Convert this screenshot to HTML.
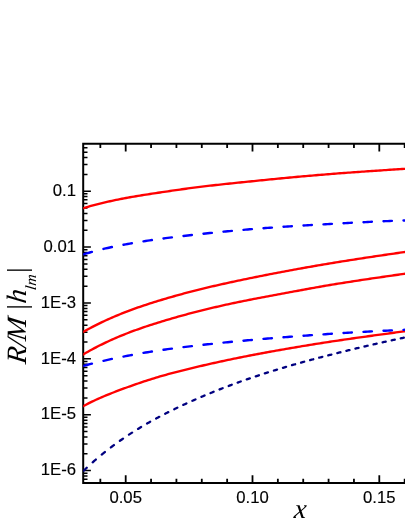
<!DOCTYPE html>
<html><head><meta charset="utf-8"><style>
html,body{margin:0;padding:0;background:#fff;}
body{width:405px;height:525px;overflow:hidden;font-family:"Liberation Sans",sans-serif;}
svg{display:block;will-change:transform;}
.tl{font-family:"Liberation Sans",sans-serif;}
.ti{font-family:"Liberation Serif",serif;font-style:italic;}
</style></head><body>
<svg width="405" height="525" viewBox="0 0 405 525">
<rect width="405" height="525" fill="#fff"/>
<path d="M83.2,142.7 V484.0 M82.2,143.7 H405 M82.2,483.0 H405" stroke="#000" stroke-width="2" fill="none"/>
<path d="M100.34,143.7 v4.3 M100.34,483.0 v-4.3 M125.70,143.7 v7.7 M125.70,483.0 v-7.7 M151.06,143.7 v4.3 M151.06,483.0 v-4.3 M176.42,143.7 v4.3 M176.42,483.0 v-4.3 M201.78,143.7 v4.3 M201.78,483.0 v-4.3 M227.14,143.7 v4.3 M227.14,483.0 v-4.3 M252.50,143.7 v7.7 M252.50,483.0 v-7.7 M277.86,143.7 v4.3 M277.86,483.0 v-4.3 M303.22,143.7 v4.3 M303.22,483.0 v-4.3 M328.58,143.7 v4.3 M328.58,483.0 v-4.3 M353.94,143.7 v4.3 M353.94,483.0 v-4.3 M379.30,143.7 v7.7 M379.30,483.0 v-7.7 M404.66,143.7 v4.3 M404.66,483.0 v-4.3" stroke="#000" stroke-width="1.8" fill="none"/>
<path d="M83.2,479.26 h4.3 M83.2,476.02 h4.3 M83.2,473.16 h4.3 M83.2,470.60 h7.7 M83.2,453.78 h4.3 M83.2,443.94 h4.3 M83.2,436.96 h4.3 M83.2,431.54 h4.3 M83.2,427.12 h4.3 M83.2,423.38 h4.3 M83.2,420.14 h4.3 M83.2,417.28 h4.3 M83.2,414.72 h7.7 M83.2,397.90 h4.3 M83.2,388.06 h4.3 M83.2,381.08 h4.3 M83.2,375.66 h4.3 M83.2,371.24 h4.3 M83.2,367.50 h4.3 M83.2,364.26 h4.3 M83.2,361.40 h4.3 M83.2,358.84 h7.7 M83.2,342.02 h4.3 M83.2,332.18 h4.3 M83.2,325.20 h4.3 M83.2,319.78 h4.3 M83.2,315.36 h4.3 M83.2,311.62 h4.3 M83.2,308.38 h4.3 M83.2,305.52 h4.3 M83.2,302.96 h7.7 M83.2,286.14 h4.3 M83.2,276.30 h4.3 M83.2,269.32 h4.3 M83.2,263.90 h4.3 M83.2,259.48 h4.3 M83.2,255.74 h4.3 M83.2,252.50 h4.3 M83.2,249.64 h4.3 M83.2,247.08 h7.7 M83.2,230.26 h4.3 M83.2,220.42 h4.3 M83.2,213.44 h4.3 M83.2,208.02 h4.3 M83.2,203.60 h4.3 M83.2,199.86 h4.3 M83.2,196.62 h4.3 M83.2,193.76 h4.3 M83.2,191.20 h7.7 M83.2,174.38 h4.3 M83.2,164.54 h4.3 M83.2,157.56 h4.3 M83.2,152.14 h4.3 M83.2,147.72 h4.3" stroke="#000" stroke-width="1.5" fill="none"/>
<clipPath id="cp"><rect x="83.2" y="143.7" width="330" height="339.3"/></clipPath>
<g clip-path="url(#cp)"><path d="M82,208.61 L84,208.00 L86,207.39 L88,206.80 L90,206.23 L92,205.67 L94,205.13 L96,204.60 L98,204.08 L100,203.57 L102,203.08 L104,202.60 L106,202.13 L108,201.67 L110,201.23 L112,200.79 L114,200.36 L116,199.95 L118,199.54 L120,199.14 L122,198.76 L124,198.37 L126,198.00 L128,197.64 L130,197.28 L132,196.93 L134,196.58 L136,196.24 L138,195.91 L140,195.58 L142,195.26 L144,194.94 L146,194.62 L148,194.31 L150,194.00 L152,193.69 L154,193.39 L156,193.09 L158,192.78 L160,192.49 L162,192.19 L164,191.89 L166,191.59 L168,191.30 L170,191.00 L172,190.71 L174,190.42 L176,190.13 L178,189.85 L180,189.56 L182,189.28 L184,189.00 L186,188.73 L188,188.46 L190,188.19 L192,187.92 L194,187.66 L196,187.40 L198,187.15 L200,186.89 L202,186.65 L204,186.41 L206,186.17 L208,185.93 L210,185.70 L212,185.47 L214,185.25 L216,185.03 L218,184.81 L220,184.59 L222,184.37 L224,184.16 L226,183.95 L228,183.74 L230,183.53 L232,183.32 L234,183.11 L236,182.91 L238,182.70 L240,182.49 L242,182.29 L244,182.08 L246,181.88 L248,181.67 L250,181.47 L252,181.26 L254,181.06 L256,180.85 L258,180.65 L260,180.45 L262,180.25 L264,180.05 L266,179.84 L268,179.65 L270,179.45 L272,179.25 L274,179.05 L276,178.86 L278,178.66 L280,178.47 L282,178.27 L284,178.08 L286,177.89 L288,177.71 L290,177.52 L292,177.33 L294,177.15 L296,176.97 L298,176.78 L300,176.60 L302,176.42 L304,176.25 L306,176.07 L308,175.90 L310,175.72 L312,175.55 L314,175.38 L316,175.21 L318,175.04 L320,174.88 L322,174.71 L324,174.55 L326,174.39 L328,174.23 L330,174.07 L332,173.91 L334,173.76 L336,173.60 L338,173.45 L340,173.29 L342,173.14 L344,172.99 L346,172.84 L348,172.70 L350,172.55 L352,172.40 L354,172.26 L356,172.12 L358,171.97 L360,171.83 L362,171.69 L364,171.55 L366,171.41 L368,171.27 L370,171.14 L372,171.00 L374,170.86 L376,170.73 L378,170.59 L380,170.46 L382,170.32 L384,170.19 L386,170.06 L388,169.92 L390,169.79 L392,169.66 L394,169.53 L396,169.40 L398,169.27 L400,169.14 L402,169.01 L404,168.88 L406,168.75 L408,168.62" fill="none" stroke="#ff0000" stroke-width="2.35" stroke-linecap="round" stroke-linejoin="round"/>
<path d="M82,332.58 L84,331.46 L86,330.36 L88,329.28 L90,328.21 L92,327.16 L94,326.13 L96,325.12 L98,324.12 L100,323.14 L102,322.18 L104,321.23 L106,320.30 L108,319.39 L110,318.49 L112,317.61 L114,316.75 L116,315.90 L118,315.06 L120,314.24 L122,313.43 L124,312.64 L126,311.87 L128,311.10 L130,310.35 L132,309.61 L134,308.89 L136,308.17 L138,307.47 L140,306.78 L142,306.10 L144,305.42 L146,304.76 L148,304.11 L150,303.46 L152,302.83 L154,302.20 L156,301.58 L158,300.96 L160,300.35 L162,299.75 L164,299.15 L166,298.56 L168,297.97 L170,297.39 L172,296.82 L174,296.25 L176,295.69 L178,295.13 L180,294.58 L182,294.03 L184,293.49 L186,292.95 L188,292.42 L190,291.90 L192,291.38 L194,290.87 L196,290.36 L198,289.85 L200,289.35 L202,288.86 L204,288.37 L206,287.89 L208,287.41 L210,286.94 L212,286.47 L214,286.00 L216,285.54 L218,285.08 L220,284.63 L222,284.18 L224,283.73 L226,283.29 L228,282.85 L230,282.42 L232,281.99 L234,281.56 L236,281.13 L238,280.70 L240,280.28 L242,279.86 L244,279.45 L246,279.03 L248,278.62 L250,278.21 L252,277.80 L254,277.39 L256,276.99 L258,276.59 L260,276.19 L262,275.79 L264,275.40 L266,275.00 L268,274.61 L270,274.22 L272,273.83 L274,273.45 L276,273.07 L278,272.68 L280,272.30 L282,271.92 L284,271.55 L286,271.17 L288,270.80 L290,270.43 L292,270.06 L294,269.69 L296,269.33 L298,268.96 L300,268.60 L302,268.24 L304,267.88 L306,267.53 L308,267.17 L310,266.82 L312,266.47 L314,266.12 L316,265.78 L318,265.43 L320,265.09 L322,264.75 L324,264.41 L326,264.07 L328,263.74 L330,263.41 L332,263.08 L334,262.75 L336,262.42 L338,262.10 L340,261.77 L342,261.45 L344,261.13 L346,260.81 L348,260.50 L350,260.18 L352,259.87 L354,259.55 L356,259.24 L358,258.93 L360,258.63 L362,258.32 L364,258.01 L366,257.71 L368,257.41 L370,257.11 L372,256.80 L374,256.51 L376,256.21 L378,255.91 L380,255.61 L382,255.32 L384,255.02 L386,254.73 L388,254.44 L390,254.15 L392,253.85 L394,253.56 L396,253.28 L398,252.99 L400,252.70 L402,252.41 L404,252.12 L406,251.84 L408,251.55" fill="none" stroke="#ff0000" stroke-width="2.35" stroke-linecap="round" stroke-linejoin="round"/>
<path d="M82,355.10 L84,353.94 L86,352.79 L88,351.67 L90,350.56 L92,349.47 L94,348.41 L96,347.36 L98,346.33 L100,345.32 L102,344.33 L104,343.36 L106,342.40 L108,341.46 L110,340.54 L112,339.64 L114,338.75 L116,337.88 L118,337.03 L120,336.19 L122,335.36 L124,334.55 L126,333.76 L128,332.98 L130,332.21 L132,331.46 L134,330.72 L136,329.99 L138,329.27 L140,328.57 L142,327.87 L144,327.19 L146,326.51 L148,325.85 L150,325.19 L152,324.54 L154,323.90 L156,323.27 L158,322.64 L160,322.02 L162,321.41 L164,320.81 L166,320.20 L168,319.61 L170,319.02 L172,318.44 L174,317.86 L176,317.29 L178,316.73 L180,316.17 L182,315.61 L184,315.06 L186,314.52 L188,313.98 L190,313.45 L192,312.92 L194,312.40 L196,311.88 L198,311.37 L200,310.87 L202,310.36 L204,309.87 L206,309.38 L208,308.89 L210,308.41 L212,307.93 L214,307.46 L216,306.99 L218,306.53 L220,306.07 L222,305.62 L224,305.17 L226,304.72 L228,304.28 L230,303.85 L232,303.42 L234,302.99 L236,302.57 L238,302.16 L240,301.74 L242,301.34 L244,300.93 L246,300.53 L248,300.14 L250,299.74 L252,299.35 L254,298.97 L256,298.58 L258,298.20 L260,297.82 L262,297.44 L264,297.07 L266,296.69 L268,296.32 L270,295.94 L272,295.57 L274,295.20 L276,294.83 L278,294.46 L280,294.08 L282,293.71 L284,293.34 L286,292.96 L288,292.59 L290,292.21 L292,291.84 L294,291.46 L296,291.09 L298,290.72 L300,290.35 L302,289.98 L304,289.61 L306,289.24 L308,288.87 L310,288.51 L312,288.15 L314,287.79 L316,287.43 L318,287.08 L320,286.73 L322,286.38 L324,286.03 L326,285.69 L328,285.35 L330,285.02 L332,284.68 L334,284.35 L336,284.02 L338,283.70 L340,283.37 L342,283.05 L344,282.73 L346,282.41 L348,282.10 L350,281.79 L352,281.48 L354,281.17 L356,280.86 L358,280.55 L360,280.25 L362,279.95 L364,279.65 L366,279.35 L368,279.05 L370,278.76 L372,278.46 L374,278.17 L376,277.88 L378,277.58 L380,277.29 L382,277.00 L384,276.72 L386,276.43 L388,276.14 L390,275.86 L392,275.57 L394,275.28 L396,275.00 L398,274.72 L400,274.43 L402,274.15 L404,273.86 L406,273.58 L408,273.30" fill="none" stroke="#ff0000" stroke-width="2.35" stroke-linecap="round" stroke-linejoin="round"/>
<path d="M82,406.83 L84,405.74 L86,404.69 L88,403.66 L90,402.65 L92,401.68 L94,400.72 L96,399.79 L98,398.88 L100,397.99 L102,397.12 L104,396.27 L106,395.43 L108,394.61 L110,393.81 L112,393.01 L114,392.23 L116,391.46 L118,390.70 L120,389.94 L122,389.20 L124,388.46 L126,387.73 L128,387.00 L130,386.28 L132,385.57 L134,384.87 L136,384.17 L138,383.49 L140,382.81 L142,382.14 L144,381.47 L146,380.82 L148,380.17 L150,379.54 L152,378.91 L154,378.29 L156,377.68 L158,377.08 L160,376.49 L162,375.90 L164,375.33 L166,374.77 L168,374.21 L170,373.66 L172,373.12 L174,372.59 L176,372.07 L178,371.55 L180,371.03 L182,370.53 L184,370.03 L186,369.53 L188,369.04 L190,368.56 L192,368.08 L194,367.60 L196,367.13 L198,366.66 L200,366.19 L202,365.73 L204,365.27 L206,364.81 L208,364.36 L210,363.91 L212,363.46 L214,363.01 L216,362.57 L218,362.13 L220,361.69 L222,361.25 L224,360.82 L226,360.40 L228,359.97 L230,359.55 L232,359.13 L234,358.72 L236,358.30 L238,357.90 L240,357.49 L242,357.09 L244,356.69 L246,356.30 L248,355.91 L250,355.52 L252,355.13 L254,354.75 L256,354.37 L258,353.99 L260,353.62 L262,353.24 L264,352.87 L266,352.51 L268,352.14 L270,351.78 L272,351.42 L274,351.06 L276,350.70 L278,350.34 L280,349.99 L282,349.64 L284,349.29 L286,348.94 L288,348.59 L290,348.24 L292,347.90 L294,347.56 L296,347.22 L298,346.88 L300,346.54 L302,346.21 L304,345.88 L306,345.55 L308,345.22 L310,344.89 L312,344.57 L314,344.24 L316,343.92 L318,343.61 L320,343.29 L322,342.98 L324,342.67 L326,342.36 L328,342.05 L330,341.75 L332,341.45 L334,341.15 L336,340.85 L338,340.55 L340,340.26 L342,339.97 L344,339.68 L346,339.39 L348,339.10 L350,338.81 L352,338.53 L354,338.24 L356,337.96 L358,337.68 L360,337.40 L362,337.12 L364,336.84 L366,336.56 L368,336.28 L370,336.01 L372,335.73 L374,335.45 L376,335.18 L378,334.91 L380,334.63 L382,334.36 L384,334.08 L386,333.81 L388,333.54 L390,333.26 L392,332.99 L394,332.72 L396,332.44 L398,332.17 L400,331.90 L402,331.62 L404,331.35 L406,331.07 L408,330.79" fill="none" stroke="#ff0000" stroke-width="2.35" stroke-linecap="round" stroke-linejoin="round"/>
<path d="M83.50,254.37 L85.60,253.72 L87.70,253.09 L89.80,252.48 L91.90,251.88 M103.50,248.92 L105.60,248.43 L107.70,247.96 L109.80,247.49 L111.90,247.04 M123.50,244.74 L125.60,244.35 L127.70,243.97 L129.80,243.59 L131.90,243.23 M143.50,241.32 L145.60,241.00 L147.70,240.68 L149.80,240.37 L151.90,240.06 M163.50,238.44 L165.60,238.16 L167.70,237.89 L169.80,237.62 L171.90,237.35 M183.50,235.94 L185.60,235.69 L187.70,235.45 L189.80,235.21 L191.90,234.97 M203.50,233.70 L205.60,233.48 L207.70,233.26 L209.80,233.04 L211.90,232.83 M223.50,231.68 L225.60,231.48 L227.70,231.28 L229.80,231.08 L231.90,230.89 M243.50,229.85 L245.60,229.67 L247.70,229.49 L249.80,229.31 L251.90,229.14 M263.50,228.21 L265.60,228.05 L267.70,227.89 L269.80,227.74 L271.90,227.58 M283.50,226.77 L285.60,226.63 L287.70,226.50 L289.80,226.36 L291.90,226.23 M303.50,225.52 L305.60,225.39 L307.70,225.27 L309.80,225.14 L311.90,225.02 M323.50,224.36 L325.60,224.24 L327.70,224.12 L329.80,224.00 L331.90,223.88 M343.50,223.24 L345.60,223.12 L347.70,223.01 L349.80,222.90 L351.90,222.79 M363.50,222.19 L365.60,222.09 L367.70,221.98 L369.80,221.88 L371.90,221.78 M383.50,221.26 L385.60,221.17 L387.70,221.08 L389.80,220.99 L391.90,220.91 M403.50,220.48 L405.60,220.41 L407.70,220.34 L409.80,220.27 L411.90,220.21" fill="none" stroke="#0000ff" stroke-width="2.4" stroke-linecap="round" stroke-linejoin="round"/>
<path d="M83.50,365.87 L85.60,365.29 L87.70,364.72 L89.80,364.16 L91.90,363.62 M103.50,360.80 L105.60,360.32 L107.70,359.86 L109.80,359.40 L111.90,358.94 M123.50,356.57 L125.60,356.16 L127.70,355.76 L129.80,355.36 L131.90,354.97 M143.50,352.91 L145.60,352.55 L147.70,352.20 L149.80,351.86 L151.90,351.52 M163.50,349.76 L165.60,349.46 L167.70,349.17 L169.80,348.88 L171.90,348.59 M183.50,347.10 L185.60,346.84 L187.70,346.59 L189.80,346.34 L191.90,346.09 M203.50,344.77 L205.60,344.54 L207.70,344.30 L209.80,344.08 L211.90,343.85 M223.50,342.64 L225.60,342.43 L227.70,342.22 L229.80,342.01 L231.90,341.80 M243.50,340.70 L245.60,340.50 L247.70,340.31 L249.80,340.12 L251.90,339.93 M263.50,338.92 L265.60,338.74 L267.70,338.57 L269.80,338.39 L271.90,338.22 M283.50,337.28 L285.60,337.11 L287.70,336.95 L289.80,336.79 L291.90,336.62 M303.50,335.75 L305.60,335.60 L307.70,335.44 L309.80,335.29 L311.90,335.14 M323.50,334.34 L325.60,334.20 L327.70,334.06 L329.80,333.92 L331.90,333.78 M343.50,333.04 L345.60,332.91 L347.70,332.79 L349.80,332.66 L351.90,332.53 M363.50,331.86 L365.60,331.75 L367.70,331.63 L369.80,331.52 L371.90,331.40 M383.50,330.80 L385.60,330.69 L387.70,330.59 L389.80,330.48 L391.90,330.38 M403.50,329.84 L405.60,329.74 L407.70,329.65 L409.80,329.56 L411.90,329.47" fill="none" stroke="#0000ff" stroke-width="2.4" stroke-linecap="round" stroke-linejoin="round"/>
<path d="M83.65,470.72 L84.43,469.98 L85.20,469.23 L85.97,468.49 L86.75,467.76 M92.71,462.30 L93.49,461.61 L94.26,460.93 L95.03,460.25 L95.81,459.58 M101.77,454.55 L102.55,453.92 L103.32,453.29 L104.09,452.67 L104.87,452.05 M110.83,447.41 L111.61,446.82 L112.38,446.24 L113.16,445.67 L113.93,445.09 M119.89,440.80 L120.67,440.25 L121.44,439.71 L122.22,439.18 L122.99,438.64 M128.95,434.64 L129.73,434.14 L130.50,433.63 L131.28,433.13 L132.05,432.64 M138.01,428.91 L138.79,428.43 L139.56,427.96 L140.34,427.49 L141.11,427.03 M147.07,423.54 L147.85,423.09 L148.62,422.65 L149.40,422.21 L150.17,421.77 M156.13,418.49 L156.91,418.07 L157.68,417.65 L158.46,417.24 L159.23,416.83 M165.19,413.72 L165.97,413.32 L166.74,412.93 L167.52,412.54 L168.29,412.15 M174.25,409.20 L175.03,408.82 L175.80,408.45 L176.58,408.07 L177.35,407.70 M183.31,404.90 L184.09,404.54 L184.86,404.18 L185.64,403.83 L186.41,403.47 M192.37,400.79 L193.15,400.45 L193.92,400.11 L194.69,399.77 L195.47,399.43 M201.43,396.86 L202.21,396.53 L202.98,396.20 L203.75,395.87 L204.53,395.55 M210.49,393.07 L211.27,392.76 L212.04,392.44 L212.81,392.13 L213.59,391.81 M219.55,389.44 L220.33,389.13 L221.10,388.83 L221.88,388.53 L222.65,388.23 M228.61,385.95 L229.39,385.65 L230.16,385.36 L230.94,385.07 L231.71,384.78 M237.67,382.60 L238.45,382.32 L239.22,382.04 L240.00,381.76 L240.77,381.48 M246.73,379.39 L247.51,379.12 L248.28,378.85 L249.06,378.59 L249.83,378.32 M255.79,376.31 L256.57,376.06 L257.34,375.80 L258.12,375.54 L258.89,375.29 M264.85,373.36 L265.62,373.11 L266.40,372.87 L267.18,372.62 L267.95,372.38 M273.91,370.52 L274.68,370.28 L275.46,370.05 L276.24,369.81 L277.01,369.58 M282.97,367.79 L283.75,367.56 L284.52,367.33 L285.30,367.10 L286.07,366.87 M292.03,365.15 L292.80,364.93 L293.58,364.71 L294.36,364.49 L295.13,364.27 M301.09,362.59 L301.87,362.38 L302.64,362.17 L303.41,361.95 L304.19,361.74 M310.15,360.12 L310.92,359.91 L311.70,359.70 L312.48,359.49 L313.25,359.28 M319.21,357.70 L319.99,357.50 L320.76,357.30 L321.53,357.10 L322.31,356.89 M328.27,355.35 L329.04,355.15 L329.82,354.95 L330.60,354.76 L331.37,354.56 M337.33,353.05 L338.11,352.86 L338.88,352.67 L339.65,352.47 L340.43,352.28 M346.39,350.81 L347.16,350.62 L347.94,350.43 L348.72,350.24 L349.49,350.05 M355.45,348.61 L356.23,348.43 L357.00,348.24 L357.77,348.06 L358.55,347.87 M364.51,346.47 L365.28,346.29 L366.06,346.11 L366.84,345.93 L367.61,345.75 M373.57,344.37 L374.35,344.19 L375.12,344.02 L375.89,343.84 L376.67,343.66 M382.63,342.32 L383.40,342.15 L384.18,341.97 L384.96,341.80 L385.73,341.63 M391.69,340.31 L392.47,340.14 L393.24,339.97 L394.01,339.80 L394.79,339.63 M400.75,338.34 L401.52,338.18 L402.30,338.01 L403.08,337.84 L403.85,337.68 M409.81,336.42 L410.59,336.25 L411.36,336.09 L412.13,335.93 L412.91,335.76" fill="none" stroke="#000080" stroke-width="2.3" stroke-linecap="round" stroke-linejoin="round"/></g>
<g class="tl" font-size="16.7" fill="#000" stroke="#000" stroke-width="0.15"><text x="76.0" y="195.9" text-anchor="end">0.1</text><text x="76.0" y="251.8" text-anchor="end">0.01</text><text x="76.0" y="307.7" text-anchor="end">1E-3</text><text x="76.0" y="363.5" text-anchor="end">1E-4</text><text x="76.0" y="419.4" text-anchor="end">1E-5</text><text x="76.0" y="475.3" text-anchor="end">1E-6</text><text x="125.7" y="503" text-anchor="middle">0.05</text><text x="252.5" y="503" text-anchor="middle">0.10</text><text x="379.3" y="503" text-anchor="middle">0.15</text></g>
<text transform="translate(293.6,518.4) skewX(-5)" class="ti" font-size="28" fill="#000">x</text>
<g transform="translate(25.5,364.5) rotate(-90)" class="ti" font-size="28" fill="#000"><text transform="translate(0,0) skewX(-7)">R</text><text transform="translate(16.5,0) skewX(-7)">/</text><text transform="translate(22.9,0) skewX(-7)">M</text><text transform="translate(53.2,0) skewX(0)">|</text><text transform="translate(60.4,0) skewX(-7)">h</text><text transform="translate(74.1,10.2) skewX(-7)" font-size="15.5">lm</text><text transform="translate(90.0,0) skewX(0)">|</text></g>
</svg>
</body></html>
